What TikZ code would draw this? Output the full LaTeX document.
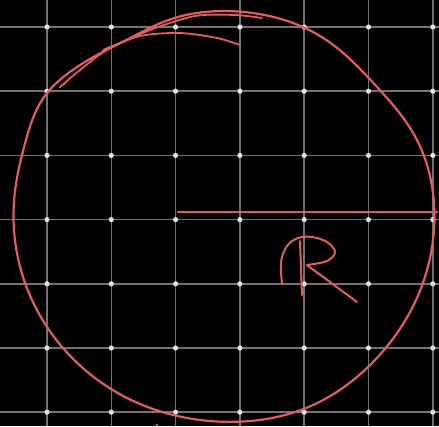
\documentclass[tikz,border=0pt]{standalone}
\definecolor{inkred}{RGB}{226,94,94}
\definecolor{gridgray}{RGB}{115,115,115}
\definecolor{dotgray}{RGB}{225,225,225}
\begin{document}
\begin{tikzpicture}[x=1pt,y=-1pt,
  gridline/.style={draw=gridgray, line width=1.5pt},
  griddot/.style={fill=dotgray},
  ink/.style={draw=inkred, line width=2.2pt, line cap=round, line join=round},
  declare function={bmp(\t)=7*exp(-((\t-214)/12)^2)-5*exp(-((\t-242)/12)^2)-8*exp(-((\t-318)/18)^2)+3*exp(-((\t-67)/20)^2);}]
\fill[black] (0,0) rectangle (439,426);
\useasboundingbox (0,0) rectangle (439,426);
\foreach \x in {47,111.3,175.6,239.9,304.2,368.5,432.8} {\draw[gridline] (\x,0) -- (\x,426);}
\foreach \y in {27,91.2,155.4,219.6,283.8,348,412.2} {\draw[gridline] (0,\y) -- (439,\y);}
\foreach \x in {47,111.3,175.6,239.9,304.2,368.5,432.8} {
  \foreach \y in {27,91.2,155.4,219.6,283.8,348,412.2} {\fill[griddot] (\x,\y) circle (2.6pt);}}
% main circle
\begin{scope}[shift={(224,216)}]
\draw[ink] plot[domain=0:360, samples=181] ({(210.5+bmp(\x))*cos(\x)}, {(205+bmp(\x))*sin(\x)}) -- cycle;
\end{scope}
% extra strokes at top
\draw[ink, line width=1.8pt] plot[smooth, tension=0.5] coordinates {(65,83) (60,87) (80,70) (107,50) (150,30) (195,16) (235,15) (262,18)};
\draw[ink, line width=1.8pt] plot[smooth, tension=0.5] coordinates {(103,50) (140,36) (180,33) (217,38) (240,45)};
% radius
\coordinate (ctr) at (178,212);
\coordinate (edge) at (437,212);
\draw[ink] (ctr) -- (edge);
% letter R
\draw[ink, line width=2pt] plot[smooth, tension=0.6] coordinates {(282,283) (281,262) (287,246) (298,238) (312,237) (327,242) (335,252) (327,261) (307,265)};
\draw[ink, line width=2pt] (300,241) -- (302,295);
\draw[ink, line width=2pt] (307,265) -- (357,302);
% small dot at bottom
\fill[inkred] (157,425) circle (1.5pt);
\end{tikzpicture}
\end{document}
